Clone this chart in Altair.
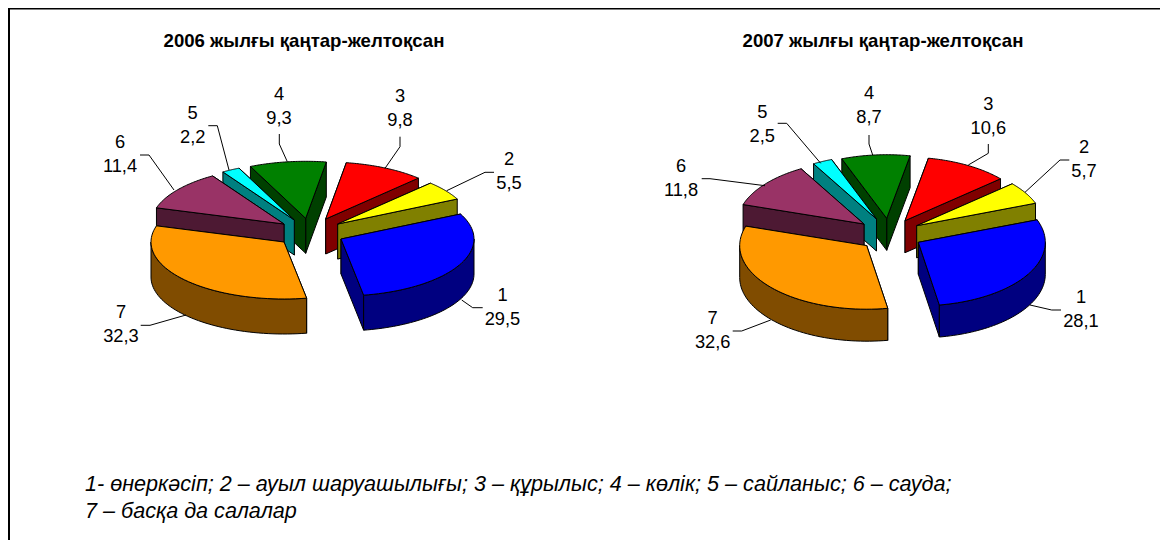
import math
import altair as alt
import pandas as pd

# --- values ---
CATEGORIES = ["1", "2", "3", "4", "5", "6", "7"]
VALUES_2006 = [29.5, 5.5, 9.8, 9.3, 2.2, 11.4, 32.3]
VALUES_2007 = [28.1, 5.7, 10.6, 8.7, 2.5, 11.8, 32.6]
TITLES = ["2006 жылғы қаңтар-желтоқсан", "2007 жылғы қаңтар-желтоқсан"]
FOOTER = [
    "1- өнеркәсіп; 2 – ауыл шаруашылығы; 3 – құрылыс; 4 – көлік; 5 – сайланыс; 6 – сауда;",
    "7 – басқа да салалар",
]

# --- styling ---
TOP_COLORS = ["#0000FF", "#FFFF00", "#FF0000", "#008000", "#00FFFF", "#993366", "#FF9900"]
WALL_COLORS = ["#000080", "#808000", "#800000", "#004000", "#008080", "#4D1933", "#804C00"]
DRAW_ORDER = [3, 2, 4, 1, 5, 6, 0]

# --- layout of the two tilted, exploded pies (image pixels) ---
PIES = [
    dict(values=VALUES_2006, start=64.0, rx=133, ry=57, depth=35,
         apex=[(341, 239), (337.7, 224), (325.7, 219), (305.7, 218.3), (294.3, 220), (284, 224), (284, 242)],
         label_xy=[(502.5, 296), (509, 160), (400, 97), (279, 95), (192.7, 114), (120, 143), (121, 313)],
         leaders=[[(461.7, 300), (472.7, 307.7), (482.7, 307.7)],
                  [(446.7, 190.7), (485, 172.3), (494, 172.3)],
                  [(385, 168.3), (400, 146.7), (400, 136.7)],
                  [(287.3, 161.7), (279.3, 144), (279.3, 134)],
                  [(229, 170), (217.3, 125.7), (208.3, 125.7)],
                  [(174, 190), (149, 155), (140, 155)],
                  [(186, 315), (150, 325.3), (140.7, 325.3)]]),
    dict(values=VALUES_2007, start=69.3, rx=127, ry=63.6, depth=32,
         apex=[(918.3, 242.3), (916.7, 225.7), (905, 220.7), (886.7, 218.3), (876.5, 219), (864, 224), (866.7, 245.6)],
         label_xy=[(1081, 298), (1084, 148), (988.3, 104.5), (869, 94), (762.3, 112.5), (681, 167), (712.7, 318.5)],
         leaders=[[(1030, 305), (1051.7, 310), (1061, 310)],
                  [(1025, 192.3), (1060, 160), (1069.3, 160)],
                  [(968.3, 165), (988.3, 153.3), (988.3, 144)],
                  [(872.7, 155), (869, 144), (869, 135)],
                  [(820.7, 163.3), (786.7, 123.3), (777.7, 123.3)],
                  [(765, 185.7), (710, 178.7), (701.7, 178.7)],
                  [(770.7, 320), (741.7, 331), (732.7, 331)]]),
]
TITLE_XY = [(304, 41), (883, 41)]
FOOTER_XY = [(85, 485), (85, 512)]
LINE_GAP = 24
FRAME_X = [9, 9, 1160]
FRAME_Y = [560, 8.5, 8.5]


def rim(ax, ay, rx, ry, a0, a1, steps=48):
    """Rim points between two angles, degrees clockwise from the top."""
    pts = []
    for i in range(steps + 1):
        t = math.radians(a0 + (a1 - a0) * i / steps)
        pts.append((ax + rx * math.sin(t), ay - ry * math.cos(t)))
    return pts


def feature(points, fill):
    ring = [list(p) for p in points] + [list(points[0])]
    return {"type": "Feature", "properties": {"fill": fill},
            "geometry": {"type": "Polygon", "coordinates": [ring]}}


features, text_rows, leader_rows = [], [], []
for p_i, pie in enumerate(PIES):
    # slice 1 runs clockwise from `start`, the other slices anticlockwise from it
    spans = [(pie["start"], pie["start"] + pie["values"][0] * 3.6)]
    a = pie["start"]
    for v in pie["values"][1:]:
        spans.append((a - v * 3.6, a))
        a -= v * 3.6
    d = pie["depth"]
    for i in DRAW_ORDER:
        ax, ay = pie["apex"][i]
        a0, a1 = spans[i]
        arc = rim(ax, ay, pie["rx"], pie["ry"], a0, a1)
        wall, top = WALL_COLORS[i], TOP_COLORS[i]
        ends = sorted([arc[0], arc[-1]], key=lambda q: q[1])
        for e in ends:
            features.append(feature([(ax, ay), e, (e[0], e[1] + d), (ax, ay + d)], wall))
        # only the part of the rim that faces the viewer
        front = []
        if a1 > 90:
            front.append((max(a0, 90), min(a1, 270)))
        if a0 < -90:
            front.append((max(a0, -270), min(a1, -90)))
        for f0, f1 in front:
            r = rim(ax, ay, pie["rx"], pie["ry"], f0, f1)
            features.append(feature(r + [(x, y + d) for x, y in reversed(r)], wall))
        features.append(feature([(ax, ay)] + arc, top))
    for i, cat in enumerate(CATEGORIES):
        lx, ly = pie["label_xy"][i]
        text_rows.append({"x": lx, "y": ly, "t": cat})
        text_rows.append({"x": lx, "y": ly + LINE_GAP, "t": str(pie["values"][i]).replace(".", ",")})
        for k, (x, y) in enumerate(pie["leaders"][i]):
            leader_rows.append({"x": x, "y": y, "k": k, "id": f"{p_i}-{i}"})

X = alt.X("x:Q", axis=None, scale=alt.Scale(domain=[8, 1160], range=[0, 1152], nice=False, zero=False))
Y = alt.Y("y:Q", axis=None, scale=alt.Scale(domain=[8, 540], range=[0, 532], nice=False, zero=False))

frame_df = pd.DataFrame({"x": FRAME_X, "y": FRAME_Y, "k": [0, 1, 2]})
frame = alt.Chart(frame_df).mark_line(color="black", strokeWidth=2, clip=False).encode(
    x=X, y=Y, order="k:Q")

shapes = alt.Chart(alt.Data(values=features)).mark_geoshape(stroke="black", strokeWidth=1).encode(
    fill=alt.Fill("properties.fill:N", scale=None)
).project(type="identity", scale=1, translate=[-8, -8])

leaders = alt.Chart(pd.DataFrame(leader_rows)).mark_line(color="black", strokeWidth=1).encode(
    x=X, y=Y, detail="id:N", order="k:Q")

labels = alt.Chart(pd.DataFrame(text_rows)).mark_text(
    font="Liberation Sans", fontSize=18.3, color="black", align="center", baseline="middle"
).encode(x=X, y=Y, text="t:N")

title_df = pd.DataFrame({"x": [c[0] for c in TITLE_XY], "y": [c[1] for c in TITLE_XY], "t": TITLES})
titles = alt.Chart(title_df).mark_text(
    font="Liberation Sans", fontSize=18.6, fontWeight="bold", color="black", align="center", baseline="middle"
).encode(x=X, y=Y, text="t:N")

foot_df = pd.DataFrame({"x": [c[0] for c in FOOTER_XY], "y": [c[1] for c in FOOTER_XY], "t": FOOTER})
footer = alt.Chart(foot_df).mark_text(
    font="Liberation Sans", fontSize=21.6, fontStyle="italic", color="black", align="left", baseline="middle"
).encode(x=X, y=Y, text="t:N")

chart = alt.layer(frame, shapes, leaders, labels, titles, footer).properties(
    width=1152, height=532, padding=0, autosize=alt.AutoSizeParams(type="none")
).configure_view(stroke=None)

chart.save("out.html", embed_options={"renderer": "svg", "actions": False})
